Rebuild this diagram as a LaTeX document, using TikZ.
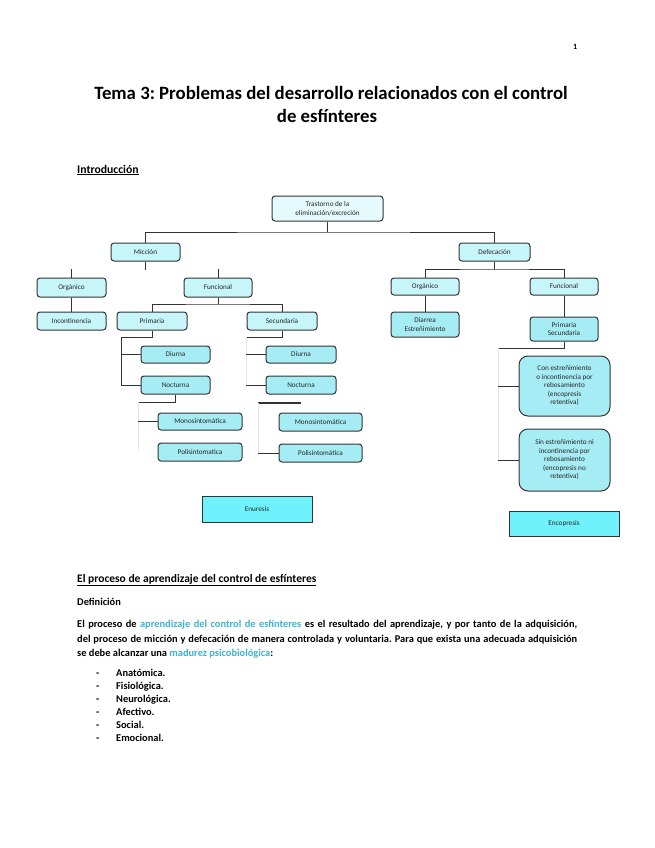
\documentclass[tikz,border=0pt]{standalone}
\usepackage{fontspec}
\setmainfont{Carlito}
\frenchspacing
\definecolor{lineclr}{HTML}{333333}
\definecolor{paleclr}{HTML}{E4FAFD}
\definecolor{lightclr}{HTML}{C6F5FA}
\definecolor{midclr}{HTML}{A6ECF4}
\definecolor{brightclr}{HTML}{70F2FC}
\definecolor{linkclr}{HTML}{3DB3D6}
\definecolor{faintclr}{HTML}{E6E6E6}
\begin{document}
\begin{tikzpicture}[x=1pt,y=-1pt,
    box/.style={draw=lineclr,line width=1pt,rounded corners=3pt,fill=lightclr,
      inner sep=0pt,align=center,text=black!85,font=\fontsize{7.2}{8.5}\selectfont},
    topbox/.style={box,fill=paleclr},
    leafbox/.style={box,fill=midclr},
    tallbox/.style={box,fill=midclr,rounded corners=9pt},
    endbox/.style={box,fill=brightclr,rounded corners=0pt},
    conn/.style={draw=lineclr,line width=0.9pt},
    faint/.style={draw=faintclr,line width=0.8pt},
    txt/.style={anchor=base west,inner sep=0pt},
    body/.style={txt,font=\bfseries\fontsize{10.4}{12}\selectfont}]
  \useasboundingbox[fill=white] (0,0) rectangle (655,848);
  % encabezado
  \node[txt,font=\bfseries\fontsize{8}{9}\selectfont] (pag) at (573,50) {1};
  \node[anchor=base,inner sep=0pt,font=\bfseries\fontsize{18.8}{21}\selectfont] (tit1) at (331,100) {Tema 3: Problemas del desarrollo relacionados con el control};
  \node[anchor=base,inner sep=0pt,font=\bfseries\fontsize{18.8}{21}\selectfont] (tit2) at (327,122) {de esfínteres};
  \node[txt,font=\bfseries\fontsize{11.7}{13}\selectfont] (intro) at (77,173) {\underline{Introducción}};
  % esquema
  \node[topbox,minimum width=111pt,minimum height=25pt] (tras) at (327.5,208.5) {Trastorno de la\\eliminación/excreción};
  \node[box,minimum width=69pt,minimum height=18pt] (mic) at (145.5,252) {Micción};
  \node[box,minimum width=71pt,minimum height=18pt] (def) at (494.5,252) {Defecación};
  \node[box,minimum width=69pt,minimum height=19pt] (morg) at (71.5,287.5) {Orgánico};
  \node[box,minimum width=68pt,minimum height=19pt] (mfun) at (218,287.5) {Funcional};
  \node[box,minimum width=69pt,minimum height=18pt] (inc) at (71.5,321) {Incontinencia};
  \node[box,minimum width=70pt,minimum height=18pt] (prim) at (152,321) {Primaria};
  \node[box,minimum width=70pt,minimum height=18pt] (sec) at (282,321) {Secundaria};
  \node[leafbox,minimum width=69pt,minimum height=17pt] (diu1) at (175.5,354.5) {Diurna};
  \node[leafbox,minimum width=69pt,minimum height=18pt] (noc1) at (175.5,385) {Nocturna};
  \node[leafbox,minimum width=84pt,minimum height=17pt] (mono1) at (200,421.5) {Monosintomática};
  \node[leafbox,minimum width=84pt,minimum height=18pt] (poli1) at (200,452) {Polisintomatica};
  \node[leafbox,minimum width=70pt,minimum height=17pt] (diu2) at (301,354.5) {Diurna};
  \node[leafbox,minimum width=70pt,minimum height=18pt] (noc2) at (301,385) {Nocturna};
  \node[leafbox,minimum width=83pt,minimum height=18pt] (mono2) at (320.5,422) {Monosintomática};
  \node[leafbox,minimum width=83pt,minimum height=18pt] (poli2) at (320.5,453) {Polisintomática};
  \node[endbox,minimum width=110pt,minimum height=26pt] (enu) at (257,509) {Enuresis};
  \node[box,minimum width=68pt,minimum height=17pt] (dorg) at (425,286.5) {Orgánico};
  \node[box,minimum width=68pt,minimum height=17pt] (dfun) at (564,286.5) {Funcional};
  \node[leafbox,minimum width=68pt,minimum height=25pt] (diar) at (425,324.5) {Diarrea\\Estreñimiento};
  \node[leafbox,minimum width=68pt,minimum height=24pt] (dps) at (564,329) {Primaria\\Secundaria};
  \node[tallbox,minimum width=91pt,minimum height=60pt] (con) at (564.5,386) {Con estreñimiento\\o incontinencia por\\rebosamiento\\(encopresis\\retentiva)};
  \node[tallbox,minimum width=91pt,minimum height=62pt] (sin) at (564.5,460) {Sin estreñimiento ni\\incontinencia por\\rebosamiento\\(encopresis no\\retentiva)};
  \node[endbox,minimum width=110pt,minimum height=25pt] (enc) at (564,523.5) {Encopresis};
  % conectores
  \coordinate (bus1) at (327.5,232);
  \coordinate (bus2) at (218,304);
  \coordinate (bus3) at (494.5,269);
  \coordinate (pl) at (121,337);
  \coordinate (nl) at (138,402);
  \coordinate (sl) at (246,337);
  \coordinate (nr) at (258,403);
  \coordinate (dl) at (498,348);
  \draw[conn] (tras.south) -- (bus1);
  \draw[conn] (mic.north) |- (bus1) -| (def.north);
  \draw[conn] (mic.south) -- ++(0,8);
  \draw[conn] (morg.north) -- ++(0,-9);
  \draw[conn] (mfun.north) -- ++(0,-9);
  \draw[conn] (morg.south) -- (inc.north);
  \draw[conn] (mfun.south) -- (bus2);
  \draw[conn] (prim.north) |- (bus2) -| (sec.north);
  \draw[conn] (prim.south) |- (pl) |- (noc1.west);
  \draw[conn] (pl |- diu1.west) -- (diu1.west);
  \draw[conn] (noc1.south) |- (nl);
  \draw[faint] (nl) -- ++(0,48);
  \draw[conn] (nl |- mono1.west) -- (mono1.west);
  \draw[conn] (sec.south) |- (sl);
  \draw[faint] (sl) -- (sl |- noc2.west);
  \draw[conn] (sl |- diu2.west) -- (diu2.west);
  \draw[conn] (sl |- noc2.west) -- (noc2.west);
  \draw[conn,line width=1.5pt] (noc2.south |- nr) -- (nr);
  \draw[faint] (nr) -- (nr |- poli2.west);
  \draw[conn] (nr |- poli2.west) -- (poli2.west);
  \draw[conn] (def.south) -- (bus3);
  \draw[conn] (dorg.north) |- (bus3) -| (dfun.north);
  \draw[conn] (dorg.south) -- (diar.north);
  \draw[conn] (dfun.south) -- (dps.north);
  \draw[conn] (dps.south) |- (dl);
  \draw[faint] (dl) -- (dl |- sin.west);
  \draw[conn] (dl |- con.west) -- (con.west);
  \draw[conn] (dl |- sin.west) -- (sin.west);
  % texto
  \node[txt,font=\bfseries\fontsize{11.5}{13}\selectfont] (proc) at (77,582) {\underline{El proceso de aprendizaje del control de esfínteres}};
  \node[body] (defi) at (77,605) {Definición};
  \node[body] (par1) at (77,627) {\makebox[500pt][s]{El proceso de \textcolor{linkclr}{aprendizaje del control de esfínteres} es el resultado del aprendizaje, y por tanto de la adquisición,}};
  \node[body] (par2) at (77,642) {\makebox[500pt][s]{del proceso de micción y defecación de manera controlada y voluntaria. Para que exista una adecuada adquisición}};
  \node[body] (par3) at (77,656) {se debe alcanzar una \textcolor{linkclr}{madurez psicobiológica}:};
  \foreach \item [count=\i] in {Anatómica., Fisiológica., Neurológica., Afectivo., Social., Emocional.} {
    \node[body] (dash\i) at (96,676+13*\i-13) {-};
    \node[body] (item\i) at (116,676+13*\i-13) {\item};
  }
\end{tikzpicture}
\end{document}
